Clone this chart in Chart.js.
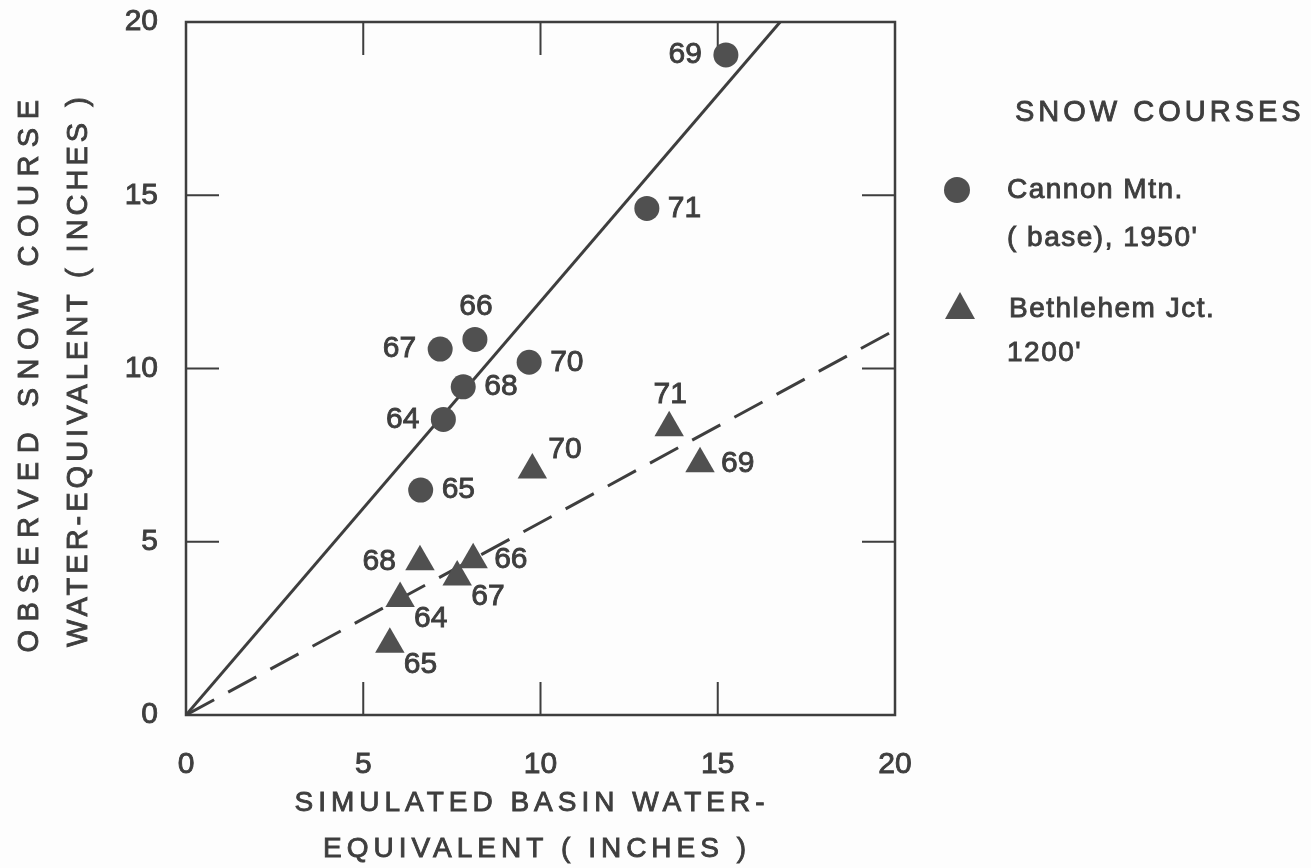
<!DOCTYPE html>
<html>
<head>
<meta charset="utf-8">
<script src="https://cdn.jsdelivr.net/npm/chart.js@4"></script>
<style>
  body { margin: 0; background: #fdfdfd; }
  canvas { display: block; }
</style>
</head>
<body>
<canvas id="snowChart" width="1311" height="868"></canvas>
<script>
// values (inches), one entry per year
const years = ["64", "65", "66", "67", "68", "69", "70", "71"];
const cannonX = [7.26, 6.62, 8.15, 7.17, 7.82, 15.23, 9.68, 13.0];
const cannonY = [8.53, 6.49, 10.84, 10.56, 9.47, 19.05, 10.18, 14.62];
const bethX = [6.04, 5.75, 8.10, 7.65, 6.60, 14.50, 9.77, 13.63];
const bethY = [3.36, 2.04, 4.48, 3.98, 4.42, 7.25, 7.07, 8.29];

// fitted lines through the origin
const solidLineX = [0, 16.76];
const solidLineY = [0, 20];
const dashedLineX = [0, 20];
const dashedLineY = [0, 11.11];

const axisTicks = [0, 5, 10, 15, 20];
const innerTicks = [5, 10, 15];

const cannonName = ["Cannon Mtn.", "( base), 1950'"];
const bethName = ["Bethlehem Jct.", "1200'"];
const legendTitle = "SNOW COURSES";
const xTitle = ["SIMULATED BASIN WATER-", "EQUIVALENT ( INCHES )"];
const yTitle = ["OBSERVED SNOW COURSE", "WATER-EQUIVALENT ( INCHES )"];

// where each year label sits relative to its marker
const cannonLabelPos = ["l", "r", "t", "l", "r", "l", "r", "r"];
const bethLabelPos = ["br", "br", "r", "br", "l", "r", "tr", "t"];

const INK = "#3e3e3e";
const FONT = "'Liberation Sans', Arial, sans-serif";

const toPts = (xs, ys) => xs.map((x, i) => ({ x: x, y: ys[i] }));

const labelOffsets = {
  l:  { dx: -24, dy: 0,   align: "right" },
  r:  { dx: 21,  dy: 0,   align: "left" },
  t:  { dx: 1,   dy: -33, align: "center" },
  tr: { dx: 16,  dy: -20, align: "left" },
  br: { dx: 14,  dy: 20,  align: "left" }
};

// filled + thin outline, the scanned lettering is a bit heavier than Liberation regular
function inkText(ctx, s, x, y) {
  ctx.fillText(s, x, y);
  ctx.strokeText(s, x, y);
}

const decorPlugin = {
  id: "decor",
  beforeDatasetsDraw(chart) {
    const { ctx, chartArea: a, scales } = chart;
    ctx.save();
    ctx.strokeStyle = INK;
    ctx.lineWidth = 2.5;
    ctx.strokeRect(a.left, a.top, a.right - a.left, a.bottom - a.top);
    ctx.lineWidth = 2;
    const len = 33;
    innerTicks.forEach(v => {
      const px = scales.x.getPixelForValue(v);
      const py = scales.y.getPixelForValue(v);
      ctx.beginPath();
      ctx.moveTo(px, a.bottom); ctx.lineTo(px, a.bottom - len);
      ctx.moveTo(px, a.top); ctx.lineTo(px, a.top + len);
      ctx.moveTo(a.left, py); ctx.lineTo(a.left + len, py);
      ctx.moveTo(a.right, py); ctx.lineTo(a.right - len, py);
      ctx.stroke();
    });
    ctx.restore();
  },
  afterDraw(chart) {
    const { ctx } = chart;
    ctx.save();
    ctx.fillStyle = INK;
    ctx.strokeStyle = INK;
    ctx.lineWidth = 0.9;
    ctx.textBaseline = "middle";

    // year labels beside markers
    ctx.font = "30px " + FONT;
    [[0, cannonLabelPos], [1, bethLabelPos]].forEach(([di, pos]) => {
      const meta = chart.getDatasetMeta(di);
      meta.data.forEach((pt, i) => {
        const o = labelOffsets[pos[i]];
        ctx.textAlign = o.align;
        inkText(ctx, years[i], pt.x + o.dx, pt.y + o.dy);
      });
    });

    // axis titles
    ctx.font = "28px " + FONT;
    ctx.textAlign = "center";
    ctx.letterSpacing = "5px";
    inkText(ctx, xTitle[0], 532, 803);
    inkText(ctx, xTitle[1], 537, 849);
    ctx.save();
    ctx.translate(30, 372);
    ctx.rotate(-Math.PI / 2);
    ctx.font = "29px " + FONT;
    ctx.letterSpacing = "8.5px";
    inkText(ctx, yTitle[0], 0, 0);
    ctx.restore();
    ctx.save();
    ctx.translate(79, 370);
    ctx.rotate(-Math.PI / 2);
    ctx.font = "29px " + FONT;
    ctx.letterSpacing = "4px";
    inkText(ctx, yTitle[1], 0, 0);
    ctx.restore();

    // legend
    ctx.textAlign = "left";
    ctx.font = "29px " + FONT;
    ctx.letterSpacing = "4px";
    inkText(ctx, legendTitle, 1015, 113);
    ctx.letterSpacing = "1.5px";
    ctx.font = "28px " + FONT;
    inkText(ctx, cannonName[0], 1007, 190);
    inkText(ctx, cannonName[1], 1007, 238);
    inkText(ctx, bethName[0], 1009, 309);
    inkText(ctx, bethName[1], 1007, 353);
    ctx.fillStyle = "#505050";
    ctx.beginPath();
    ctx.arc(957, 190, 13, 0, Math.PI * 2);
    ctx.fill();
    ctx.beginPath();
    ctx.moveTo(960, 292);
    ctx.lineTo(975, 319);
    ctx.lineTo(945, 319);
    ctx.closePath();
    ctx.fill();
    ctx.restore();
  }
};

new Chart(document.getElementById("snowChart"), {
  type: "scatter",
  data: {
    datasets: [
      {
        label: cannonName.join(" "),
        data: toPts(cannonX, cannonY),
        pointStyle: "circle",
        pointRadius: 12.5,
        backgroundColor: "#505050",
        borderWidth: 0
      },
      {
        label: bethName.join(" "),
        data: toPts(bethX, bethY),
        pointStyle: "triangle",
        pointRadius: 17,
        backgroundColor: "#505050",
        borderWidth: 0
      },
      {
        type: "line",
        label: "fit cannon",
        data: toPts(solidLineX, solidLineY),
        borderColor: INK,
        borderWidth: 3,
        pointRadius: 0,
        fill: false
      },
      {
        type: "line",
        label: "fit bethlehem",
        data: toPts(dashedLineX, dashedLineY),
        borderColor: INK,
        borderWidth: 3,
        borderDash: [32, 16],
        pointRadius: 0,
        fill: false
      }
    ]
  },
  options: {
    responsive: false,
    animation: false,
    layout: { padding: { top: 22, right: 416, left: 0, bottom: 0 } },
    plugins: {
      legend: { display: false },
      tooltip: { enabled: false }
    },
    scales: {
      x: {
        type: "linear",
        min: 0,
        max: 20,
        afterBuildTicks: s => { s.ticks = axisTicks.map(v => ({ value: v })); },
        afterFit: s => {
          s.height = 153;
          s.paddingLeft = 0;
          s.paddingRight = 0;
        },
        grid: { display: false, drawTicks: false },
        border: { display: false },
        ticks: {
          padding: 32, color: INK, font: { size: 30, family: FONT },
          textStrokeColor: INK, textStrokeWidth: 0.9
        }
      },
      y: {
        type: "linear",
        min: 0,
        max: 20,
        afterBuildTicks: s => { s.ticks = axisTicks.map(v => ({ value: v })); },
        afterFit: s => {
          s.width = 186;
          s.paddingTop = 0;
          s.paddingBottom = 0;
        },
        grid: { display: false, drawTicks: false },
        border: { display: false },
        ticks: {
          padding: 28, color: INK, font: { size: 30, family: FONT },
          textStrokeColor: INK, textStrokeWidth: 0.9
        }
      }
    }
  },
  plugins: [decorPlugin]
});
</script>
</body>
</html>
